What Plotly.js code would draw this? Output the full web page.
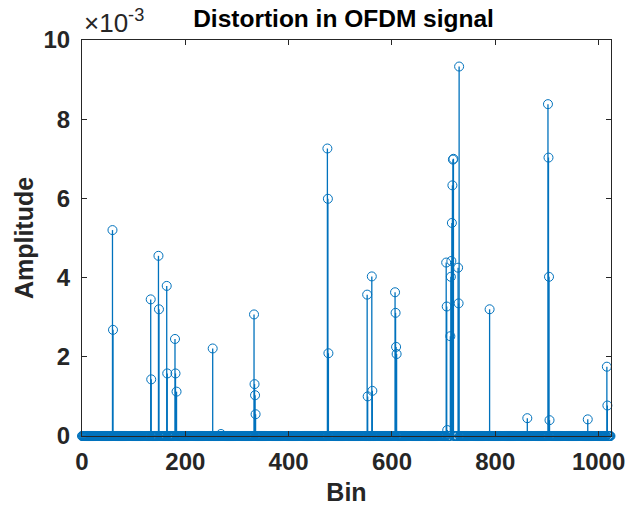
<!DOCTYPE html>
<html>
<head>
<meta charset="utf-8">
<script src="https://cdn.plot.ly/plotly-3.0.1.min.js"></script>
<style>html,body{margin:0;padding:0;background:#fff}#chart{width:635px;height:509px}</style>
</head>
<body>
<div id="chart"></div>
<script>
// Number of FFT bins
const binCount = 1024;
// Bins with non-zero distortion
const spikeBins = [59, 60, 133, 134, 148, 149, 164, 165, 180, 181, 183, 253, 269,
  333, 334, 335, 336, 475, 476, 477, 552, 553, 561, 562, 606, 607, 608, 609,
  705, 706, 707, 713, 714, 715, 716, 717, 718, 719, 728, 729, 730, 789, 862,
  902, 903, 904, 905, 979, 1016, 1017];
// Amplitudes of those bins
const spikeValues = [5.20e-3, 2.68e-3, 3.45e-3, 1.43e-3, 4.55e-3, 3.20e-3, 3.79e-3, 1.58e-3,
  2.45e-3, 1.58e-3, 1.12e-3, 2.21e-3, 0.05e-3,
  3.07e-3, 1.31e-3, 1.03e-3, 0.55e-3, 7.26e-3, 5.99e-3, 2.09e-3, 3.57e-3, 1.00e-3,
  4.03e-3, 1.14e-3, 3.63e-3, 3.11e-3, 2.25e-3, 2.07e-3,
  4.38e-3, 3.27e-3, 0.15e-3, 2.52e-3, 4.02e-3, 4.42e-3, 5.38e-3, 6.33e-3, 6.98e-3, 7.00e-3,
  4.25e-3, 3.35e-3, 9.33e-3, 3.20e-3, 0.45e-3,
  8.38e-3, 7.03e-3, 4.02e-3, 0.40e-3, 0.42e-3, 1.75e-3, 0.77e-3];
// Axis ticks
const xTicks = [0, 200, 400, 600, 800, 1000];
const yTicks = [0, 0.002, 0.004, 0.006, 0.008, 0.010];
const yTickText = ["0", "2", "4", "6", "8", "10"];

// Full signal: zero everywhere except the spike bins
const bins = [];
const amps = [];
for (let i = 0; i < binCount; i++) { bins.push(i); amps.push(0); }
spikeBins.forEach((b, k) => { amps[b] = spikeValues[k]; });

const stemX = [], stemY = [];
spikeBins.forEach((b, k) => { stemX.push(b, b, null); stemY.push(0, spikeValues[k], null); });

const blue = '#0072BD';
const font = 'Liberation Sans, Arial, sans-serif';

const traces = [
  {x: stemX, y: stemY, type: 'scatter', mode: 'lines', line: {color: blue, width: 1.3}, hoverinfo: 'skip', cliponaxis: false},
  {x: [0, binCount - 1], y: [0, 0], type: 'scatter', mode: 'lines', line: {color: blue, width: 1.3}, hoverinfo: 'skip', cliponaxis: false},
  {x: bins, y: amps, type: 'scatter', mode: 'markers', cliponaxis: false,
   marker: {symbol: 'circle-open', size: 9, color: blue, line: {color: blue, width: 1}}}
];

const layout = {
  width: 635, height: 509,
  margin: {l: 82, r: 24, t: 40, b: 73},
  paper_bgcolor: '#fff', plot_bgcolor: '#fff',
  showlegend: false,
  font: {family: font, color: '#262626'},
  title: {text: '<b>Distortion in OFDM signal</b>', x: 0.541, xanchor: 'center', y: 0.963, yanchor: 'middle',
          font: {family: font, size: 24.5, color: '#000'}},
  xaxis: {
    range: [0, 1024], tickvals: xTicks, ticktext: xTicks.map(String),
    ticks: 'inside', ticklen: 5, tickcolor: '#262626', tickwidth: 1,
    showline: true, linecolor: '#262626', linewidth: 1, mirror: 'ticks',
    showgrid: false, zeroline: false, ticklabelstandoff: 4,
    tickfont: {family: font, size: 24, color: '#262626', weight: 'bold'},
    title: {text: '<b>Bin</b>', font: {family: font, size: 25, color: '#262626'}, standoff: 9}
  },
  yaxis: {
    range: [0, 0.01], tickvals: yTicks, ticktext: yTickText,
    ticks: 'inside', ticklen: 5, tickcolor: '#262626', tickwidth: 1,
    showline: true, linecolor: '#262626', linewidth: 1, mirror: 'ticks',
    showgrid: false, zeroline: false, ticklabelstandoff: 6,
    tickfont: {family: font, size: 24, color: '#262626', weight: 'bold'},
    title: {text: '<b>Amplitude</b>', font: {family: font, size: 25, color: '#262626'}, standoff: 2}
  },
  annotations: [{
    text: '×10<sup>-3</sup>', xref: 'paper', yref: 'paper', x: 0, y: 1, xanchor: 'left', yanchor: 'bottom',
    showarrow: false, font: {family: font, size: 26, color: '#262626'}, xshift: 0, yshift: 0
  }]
};

Plotly.newPlot('chart', traces, layout, {displayModeBar: false, staticPlot: true});
</script>
</body>
</html>
